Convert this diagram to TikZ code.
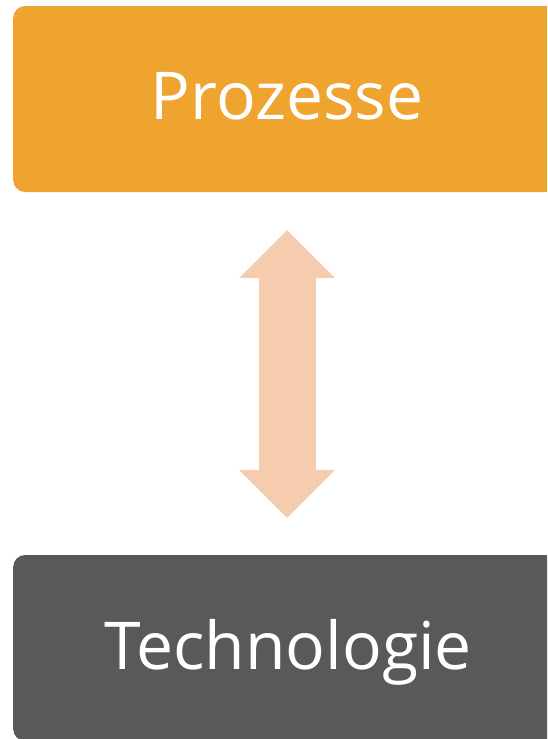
\documentclass[tikz,border=0pt]{standalone}
\usepackage{fontspec}
\setmainfont{Open Sans}
\usetikzlibrary{arrows.meta}
\definecolor{procorange}{HTML}{EFA430}
\definecolor{techgrey}{HTML}{595959}
\definecolor{arrowpeach}{HTML}{F5CDAE}
\tikzset{
  block/.style = {rounded corners=12pt, minimum width=560pt, minimum height=186pt,
    inner sep=0pt, text=white, text height=48pt, text depth=8pt,
    font=\fontsize{66}{78}\selectfont},
  bothway/.style = {draw=arrowpeach, line width=57pt,
    {Triangle[width=96pt,length=48pt,line width=0pt,fill=arrowpeach]}-{Triangle[width=96pt,length=48pt,line width=0pt,fill=arrowpeach]}}
}
\begin{document}
\begin{tikzpicture}[x=1pt, y=-1pt]
\useasboundingbox (0,0) rectangle (547,739);
\clip (0,0) rectangle (547,739);
\node [block, fill=procorange, anchor=west] (proc) at (13,99) {};
\node [block, fill=techgrey, anchor=west] (tech) at (13,648) {};
\node [text=white, inner sep=0pt, anchor=base, font=\fontsize{66}{78}\selectfont] (proclabel) at (287,119) {Prozesse};
\node [text=white, inner sep=0pt, anchor=base, font=\fontsize{66}{78}\selectfont] (techlabel) at (288,669) {Technologie};
\draw [bothway, shorten <=38pt, shorten >=37pt] (proc.south -| proclabel) -- (tech.north -| proclabel);
\end{tikzpicture}
\end{document}
